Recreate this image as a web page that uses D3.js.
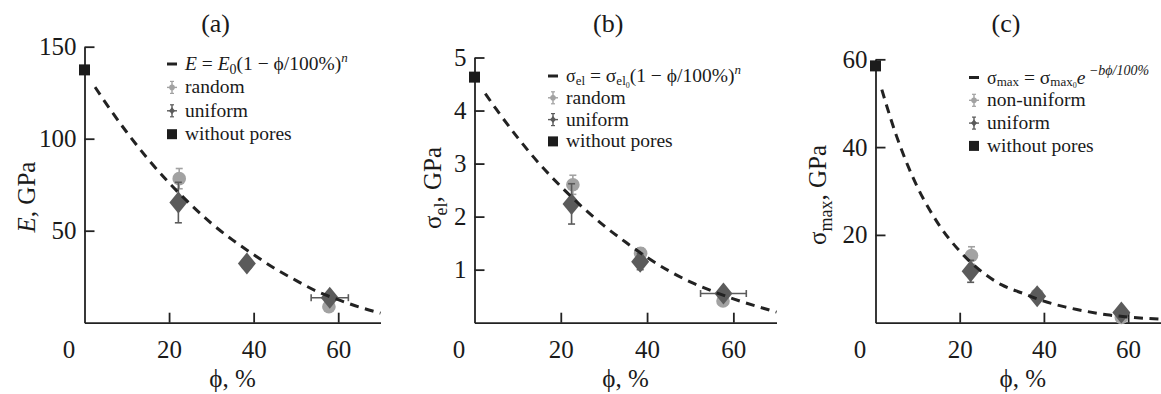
<!DOCTYPE html>
<html>
<head>
<meta charset="utf-8">
<script src="https://cdn.jsdelivr.net/npm/d3@7"></script>
</head>
<body style="margin:0">
<svg id="chart" width="1161" height="394"></svg>
<script>
const SERIF = '"Liberation Serif", "Times New Roman", serif';
const phiTicks = [0, 20, 40, 60];

// (a) Young's modulus, GPa
const modulusTicks = [50, 100, 150];
const modulusRandom = [
  { phi: 22.4, y: 78.3, yErr: 5.5, xErr: 0 },
  { phi: 38.4, y: 32.0, yErr: 2.0, xErr: 0 },
  { phi: 57.8, y: 8.7, yErr: 1.5, xErr: 0 }
];
const modulusUniform = [
  { phi: 22.2, y: 65.3, yErr: 11.0, xErr: 0 },
  { phi: 38.4, y: 32.2, yErr: 2.5, xErr: 0 },
  { phi: 58.0, y: 13.6, yErr: 2.0, xErr: 4.4 }
];
const modulusDense = [{ phi: 0, y: 137.4 }];
const fitPhi = [2.5, 5, 10, 15, 20, 25, 30, 35, 40, 45, 50, 55, 60, 65, 70];
const modulusFit = [128, 119.5, 103.5, 89, 76, 64.5, 54, 45, 37, 29.5, 23, 17, 12.5, 8.5, 5.2];

// (b) elastic limit, GPa
const elasticTicks = [1, 2, 3, 4, 5];
const elasticRandom = [
  { phi: 22.8, y: 2.60, yErr: 0.18, xErr: 0 },
  { phi: 38.5, y: 1.31, yErr: 0.10, xErr: 0 },
  { phi: 57.6, y: 0.41, yErr: 0.05, xErr: 0 }
];
const elasticUniform = [
  { phi: 22.5, y: 2.24, yErr: 0.38, xErr: 0 },
  { phi: 38.4, y: 1.15, yErr: 0.15, xErr: 0 },
  { phi: 57.7, y: 0.55, yErr: 0.05, xErr: 5.3 }
];
const elasticDense = [{ phi: 0, y: 4.63 }];
const elasticFit = [4.32, 4.03, 3.49, 3.0, 2.57, 2.18, 1.83, 1.52, 1.23, 0.98, 0.77, 0.6, 0.45, 0.32, 0.2];

// (c) max strength, GPa
const strengthTicks = [20, 40, 60];
const strengthRandom = [
  { phi: 22.8, y: 15.3, yErr: 2.0, xErr: 0 },
  { phi: 38.4, y: 6.3, yErr: 1.0, xErr: 0 },
  { phi: 58.4, y: 1.2, yErr: 0.5, xErr: 0 }
];
const strengthUniform = [
  { phi: 22.6, y: 11.7, yErr: 2.5, xErr: 0 },
  { phi: 38.4, y: 6.0, yErr: 1.0, xErr: 0 },
  { phi: 58.4, y: 2.3, yErr: 0.8, xErr: 0 }
];
const strengthDense = [{ phi: 0, y: 58.5 }];
const strengthFitPhi = [1.5, 2.5, 5, 7.5, 10, 12.5, 15, 20, 25, 30, 35, 40, 45, 50, 55, 60, 65, 70];
const strengthFit = [53.1, 49.9, 42.5, 36.2, 30.8, 26.3, 22.4, 16.3, 11.8, 8.6, 6.7, 4.9, 3.6, 2.6, 1.8, 1.3, 0.95, 0.7];

const COLOR_RANDOM = "#a2a2a2";
const COLOR_UNIFORM = "#5b5b5b";
const COLOR_DENSE = "#1c1c1c";
const COLOR_FIT = "#222";
const COLOR_TEXT = "#1a1a1a";

const panels = [
  {
    title: "(a)",
    xRange: [84.5, 380.5],
    yDomain: [0, 150],
    yRange: [322.7, 46.7],
    yTicks: modulusTicks,
    random: modulusRandom,
    uniform: modulusUniform,
    dense: modulusDense,
    fit: fitPhi.map((phi, i) => ({ phi, y: modulusFit[i] })),
    yLabel: [{ text: "E", italic: true }, { text: ", GPa" }],
    yLabelPos: [27, 197],
    legend: { x: 172, y: 64, step: 23.4 },
    legendFormula: [
      { text: "E", italic: true }, { text: " = " }, { text: "E", italic: true },
      { text: "0", size: 14, shift: 4 }, { text: "(1 − ϕ/100%)", shift: 0 },
      { text: "n", italic: true, size: 13, shift: -8 }
    ],
    randomName: "random"
  },
  {
    title: "(b)",
    xRange: [474.5, 776.5],
    yDomain: [0, 5],
    yRange: [322.7, 57.5],
    yTicks: elasticTicks,
    random: elasticRandom,
    uniform: elasticUniform,
    dense: elasticDense,
    fit: fitPhi.map((phi, i) => ({ phi, y: elasticFit[i] })),
    yLabel: [{ text: "σ" }, { text: "el", size: 18, shift: 6 }, { text: ", GPa", shift: 0 }],
    yLabelPos: [433, 188],
    legend: { x: 553, y: 76, step: 21.8 },
    legendFormula: [
      { text: "σ", size: 18 }, { text: "el", size: 13, shift: 3 }, { text: " = σ", shift: 0 },
      { text: "el", size: 13, shift: 3 }, { text: "0", size: 8, shift: 6 },
      { text: "(1 − ϕ/100%)", shift: 0 }, { text: "n", italic: true, size: 13, shift: -8 }
    ],
    randomName: "random"
  },
  {
    title: "(c)",
    xRange: [875.5, 1170.2],
    yDomain: [0, 60],
    yRange: [322.7, 59.3],
    yTicks: strengthTicks,
    random: strengthRandom,
    uniform: strengthUniform,
    dense: strengthDense,
    fit: strengthFitPhi.map((phi, i) => ({ phi, y: strengthFit[i] })),
    yLabel: [{ text: "σ" }, { text: "max", size: 18, shift: 6 }, { text: ", GPa", shift: 0 }],
    yLabelPos: [818, 195],
    legend: { x: 974, y: 77.5, step: 22.8 },
    legendFormula: [
      { text: "σ", size: 18 }, { text: "max", size: 13, shift: 2 }, { text: " = σ", shift: 0 },
      { text: "max", size: 13, shift: 2 }, { text: "0", size: 8, shift: 4 },
      { text: "e", italic: true, shift: 0 }, { text: " −bϕ/100%", italic: true, size: 14, shift: -9 }
    ],
    randomName: "non-uniform"
  }
];


function addRichText(parent, x, y, parts, fontSize) {
  const text = parent.append("text")
    .attr("x", x)
    .attr("y", y)
    .attr("font-size", fontSize)
    .attr("xml:space", "preserve");
  let current = 0;
  for (const part of parts) {
    const target = part.shift === undefined ? current : part.shift;
    text.append("tspan")
      .attr("dy", target - current)
      .attr("font-size", part.size || null)
      .attr("font-style", part.italic ? "italic" : null)
      .text(part.text);
    current = target;
  }
  return text;
}


function drawErrorBars(group, points, xScale, yScale, color) {
  const cap = 3.5;
  const seg = (x1, y1, x2, y2) => group.append("line")
    .attr("x1", x1).attr("y1", y1).attr("x2", x2).attr("y2", y2)
    .attr("stroke", color).attr("stroke-width", 1.6);
  for (const point of points) {
    const cx = xScale(point.phi);
    const cy = yScale(point.y);
    if (point.yErr) {
      const top = yScale(point.y + point.yErr);
      const bottom = yScale(point.y - point.yErr);
      seg(cx, top, cx, bottom);
      seg(cx - cap, top, cx + cap, top);
      seg(cx - cap, bottom, cx + cap, bottom);
    }
    if (point.xErr) {
      const left = xScale(point.phi - point.xErr);
      const right = xScale(point.phi + point.xErr);
      seg(left, cy, right, cy);
      seg(left, cy - cap, left, cy + cap);
      seg(right, cy - cap, right, cy + cap);
    }
  }
}


function diamondPath(cx, cy, w, h) {
  return `M${cx},${cy - h / 2}L${cx + w / 2},${cy}L${cx},${cy + h / 2}L${cx - w / 2},${cy}Z`;
}


function renderPanel(root, panel) {
  const xScale = d3.scaleLinear().domain([0, 70]).range(panel.xRange);
  const yScale = d3.scaleLinear().domain(panel.yDomain).range(panel.yRange);
  const g = root.append("g");
  const x0 = xScale(0);

  // axes, ticks point inward
  const xAxis = g.append("g")
    .attr("transform", `translate(0, ${yScale(0)})`)
    .call(d3.axisBottom(xScale)
      .tickValues(phiTicks)
      .tickFormat(d3.format("d"))
      .tickSizeInner(-10)
      .tickSizeOuter(0)
      .tickPadding(17.5));
  xAxis.selectAll(".tick")
    .filter(d => d === 0)
    .each(function () {
      d3.select(this).select("line").remove();
      d3.select(this).select("text").attr("x", -16);
    });

  const yAxis = g.append("g")
    .attr("transform", `translate(${x0}, 0)`)
    .call(d3.axisLeft(yScale)
      .tickValues(panel.yTicks)
      .tickFormat(d3.format("d"))
      .tickSizeInner(-10)
      .tickSizeOuter(0)
      .tickPadding(8));

  for (const axis of [xAxis, yAxis]) {
    axis.attr("font-family", SERIF).attr("font-size", 25);
    axis.selectAll("path, line").attr("stroke", "#222").attr("stroke-width", 1.8);
    axis.selectAll("text").attr("fill", COLOR_TEXT);
  }

  // error bars + markers
  const marks = g.append("g");
  drawErrorBars(marks, panel.random, xScale, yScale, COLOR_RANDOM);
  marks.selectAll("circle.random")
    .data(panel.random)
    .join("circle")
    .attr("class", "random")
    .attr("cx", d => xScale(d.phi))
    .attr("cy", d => yScale(d.y))
    .attr("r", 6.8)
    .attr("fill", COLOR_RANDOM);

  drawErrorBars(marks, panel.uniform, xScale, yScale, COLOR_UNIFORM);
  marks.selectAll("path.uniform")
    .data(panel.uniform)
    .join("path")
    .attr("class", "uniform")
    .attr("d", d => diamondPath(xScale(d.phi), yScale(d.y), 18, 22))
    .attr("fill", COLOR_UNIFORM);

  marks.selectAll("rect.dense")
    .data(panel.dense)
    .join("rect")
    .attr("class", "dense")
    .attr("x", d => xScale(d.phi) - 5.5)
    .attr("y", d => yScale(d.y) - 5.5)
    .attr("width", 11)
    .attr("height", 11)
    .attr("fill", COLOR_DENSE);

  // fitted curve drawn over the markers
  const line = d3.line()
    .x(d => xScale(d.phi))
    .y(d => yScale(d.y))
    .curve(d3.curveMonotoneX);
  g.append("path")
    .attr("d", line(panel.fit))
    .attr("fill", "none")
    .attr("stroke", COLOR_FIT)
    .attr("stroke-width", 3)
    .attr("stroke-dasharray", "9,6.5");

  // titles and axis labels
  g.append("text")
    .attr("x", xScale(31))
    .attr("y", 32)
    .attr("text-anchor", "middle")
    .attr("font-size", 26)
    .text(panel.title);

  g.append("text")
    .attr("x", xScale(35))
    .attr("y", 387)
    .attr("text-anchor", "middle")
    .attr("font-size", 25)
    .text("ϕ, %");

  addRichText(g, 0, 0, panel.yLabel, 25)
    .attr("text-anchor", "middle")
    .attr("transform", `translate(${panel.yLabelPos[0] + 8}, ${panel.yLabelPos[1]}) rotate(-90)`);

  // legend
  const lg = g.append("g");
  const lx = panel.legend.x;
  const rows = [0, 1, 2, 3].map(i => panel.legend.y + i * panel.legend.step);
  const textX = lx + 13;
  lg.append("line")
    .attr("x1", lx - 5).attr("x2", lx + 5)
    .attr("y1", rows[0]).attr("y2", rows[0])
    .attr("stroke", COLOR_FIT).attr("stroke-width", 3);
  addRichText(lg, textX, rows[0] + 6, panel.legendFormula, 19.5);

  const legendCross = (cy, color) => {
    const seg = (x1, y1, x2, y2, w) => lg.append("line")
      .attr("x1", x1).attr("y1", y1).attr("x2", x2).attr("y2", y2)
      .attr("stroke", color).attr("stroke-width", w);
    seg(lx - 5, cy, lx + 5, cy, 1.4);
    seg(lx, cy - 6, lx, cy + 6, 1.4);
    seg(lx - 2, cy - 6, lx + 2, cy - 6, 1.2);
    seg(lx - 2, cy + 6, lx + 2, cy + 6, 1.2);
  };
  legendCross(rows[1], COLOR_RANDOM);
  lg.append("circle").attr("cx", lx).attr("cy", rows[1]).attr("r", 2.8).attr("fill", COLOR_RANDOM);
  addRichText(lg, textX, rows[1] + 6, [{ text: panel.randomName }], 19.5);

  legendCross(rows[2], COLOR_UNIFORM);
  lg.append("path").attr("d", diamondPath(lx, rows[2], 6, 7)).attr("fill", COLOR_UNIFORM);
  addRichText(lg, textX, rows[2] + 6, [{ text: "uniform" }], 19.5);

  lg.append("rect")
    .attr("x", lx - 5).attr("y", rows[3] - 5)
    .attr("width", 10).attr("height", 10)
    .attr("fill", COLOR_DENSE);
  addRichText(lg, textX, rows[3] + 6, [{ text: "without pores" }], 19.5);
}

const root = d3.select("#chart")
  .attr("font-family", SERIF)
  .attr("fill", COLOR_TEXT);
for (const panel of panels) {
  renderPanel(root, panel);
}
root.selectAll("text").attr("font-family", SERIF);
</script>
</body>
</html>
